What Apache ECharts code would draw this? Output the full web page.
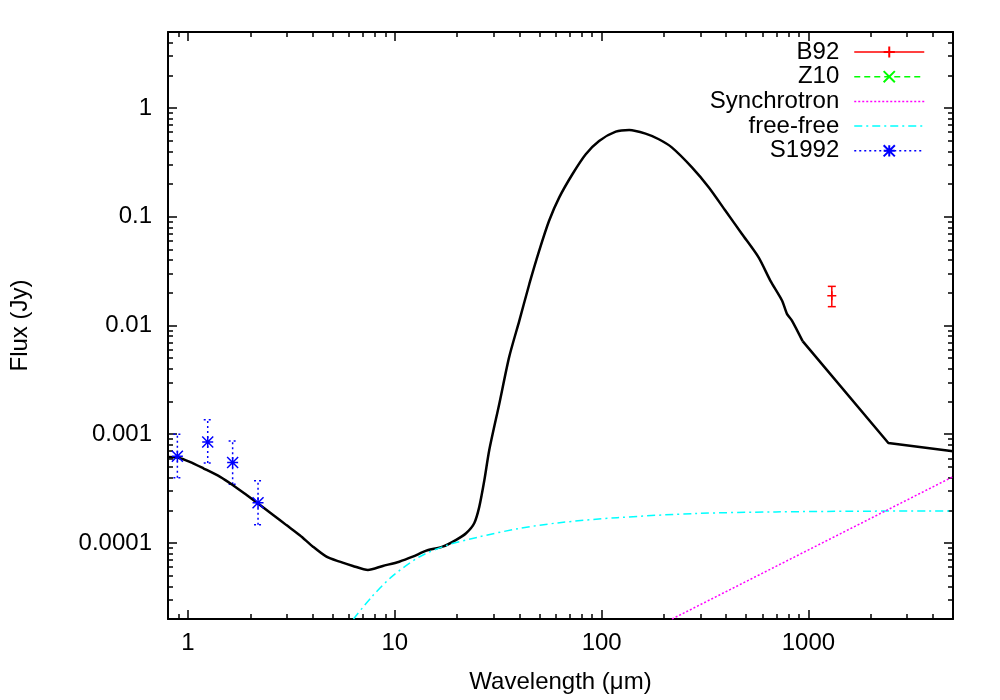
<!DOCTYPE html>
<html>
<head>
<meta charset="utf-8">
<script src="https://cdn.jsdelivr.net/npm/echarts@6/dist/echarts.min.js"></script>
<style>
html, body { margin: 0; padding: 0; background: #fff; }
#view { width: 1000px; height: 700px; }
</style>
</head>
<body>
<div id="view"></div>
<script>
var myChart = echarts.init(document.getElementById('view'));
var FONT = '"Liberation Sans", Arial, sans-serif';
var FS = 24;

/* model SED (black curve): dust part, then the straight long-wavelength tail */
var sedWave = [0.80, 0.888, 1.02, 1.19, 1.43, 1.65, 1.92, 2.18, 2.58, 2.99, 3.47, 4.02, 4.67, 5.41, 6.27, 7.41,
    8.75, 10.5, 12.2, 14.2, 17.0, 19.8, 22.1, 24.2, 25.6, 27.1, 28.6, 32.0, 35.7, 40.0, 44.7, 49.9, 55.7, 62.3,
    72.2, 83.8, 97.2, 117, 136, 163, 189, 219, 274, 330, 397, 477, 574, 654, 745, 787, 832, 937];
var sedFlux = [6.19e-4, 6.11e-4, 5.57e-4, 4.84e-4, 4.06e-4, 3.40e-4, 2.76e-4, 2.31e-4, 1.81e-4, 1.46e-4, 1.18e-4,
    9.25e-5, 7.48e-5, 6.73e-5, 6.15e-5, 5.65e-5, 6.15e-5, 6.73e-5, 7.48e-5, 8.50e-5, 9.25e-5, 1.07e-4, 1.23e-4,
    1.52e-4, 2.15e-4, 3.79e-4, 7.13e-4, 1.91e-3, 5.12e-3, 1.11e-2, 2.41e-2, 4.88e-2, 9.19e-2, 0.150, 0.246, 0.376,
    0.498, 0.606, 0.628, 0.581, 0.516, 0.432, 0.283, 0.186, 0.1135, 0.0694, 0.0423, 0.0259, 0.0170, 0.0128, 0.0111,
    0.00718];
var tailWave = [937, 2434, 5000];
var tailFlux = [0.00718, 8.32e-4, 6.98e-4];

/* free-free */
var freeWave = [6.31, 7.70, 9.61, 13.1, 17.8, 25.4, 39.5, 61.3, 119, 288, 695, 1682, 5000];
var freeFlux = [2.0e-5, 3.17e-5, 4.85e-5, 7.43e-5, 9.51e-5, 1.135e-4, 1.355e-4, 1.53e-4, 1.71e-4, 1.87e-4, 1.93e-4, 1.96e-4, 1.97e-4];

/* synchrotron */
var synWave = [219, 5000];
var synFlux = [2.0e-5, 4.07e-4];

/* S1992 */
var s1992Wave = [0.888, 1.245, 1.643, 2.18];
var s1992Flux = [6.28e-4, 8.50e-4, 5.50e-4, 2.34e-4];
var s1992Lo = [3.97e-4, 5.45e-4, 3.46e-4, 1.47e-4];
var s1992Hi = [1.0e-3, 1.36e-3, 8.68e-4, 3.73e-4];

/* B92 */
var b92Wave = [1297];
var b92Flux = [0.0188];
var b92Lo = [0.0149];
var b92Hi = [0.0229];

/* Z10 (nothing inside the plotted range) */
var z10Wave = [];
var z10Flux = [];

/* ticks */
var xTickValues = [1, 10, 100, 1000];
var xTickLabels = ['1', '10', '100', '1000'];
var xMinorTicks = [0.9, 2, 3, 4, 5, 6, 7, 8, 9, 20, 30, 40, 50, 60, 70, 80, 90,
    200, 300, 400, 500, 600, 700, 800, 900, 2000, 3000, 4000];
var yTickValues = [0.0001, 0.001, 0.01, 0.1, 1];
var yTickLabels = ['0.0001', '0.001', '0.01', '0.1', '1'];
var yMinorTicks = [3e-5, 4e-5, 5e-5, 6e-5, 7e-5, 8e-5, 9e-5,
    2e-4, 3e-4, 4e-4, 5e-4, 6e-4, 7e-4, 8e-4, 9e-4,
    0.002, 0.003, 0.004, 0.005, 0.006, 0.007, 0.008, 0.009,
    0.02, 0.03, 0.04, 0.05, 0.06, 0.07, 0.08, 0.09,
    0.2, 0.3, 0.4, 0.5, 0.6, 0.7, 0.8, 0.9, 2, 3, 4];

function zip(a, b) {
    return a.map(function (v, i) { return [v, b[i]]; });
}

function pickLabel(values, labels) {
    return function (v) {
        var best = 0;
        for (var i = 1; i < values.length; i++) {
            if (Math.abs(Math.log10(v) - Math.log10(values[i])) < Math.abs(Math.log10(v) - Math.log10(values[best]))) best = i;
        }
        return labels[best];
    };
}

function logAxis(pos, min, max, ticks, tickLen, withLine, label) {
    return {
        type: 'log', logBase: 10, position: pos, min: min, max: max,
        axisLine: { show: withLine, onZero: false, lineStyle: { color: '#000', width: 2 } },
        axisTick: { show: true, inside: true, length: tickLen, customValues: ticks, lineStyle: { color: '#000', width: 1.5 } },
        axisLabel: label || { show: false },
        splitLine: { show: false },
        minorTick: { show: false },
        minorSplitLine: { show: false }
    };
}

var xMin = 0.8, xMax = 5000, yMin = 2e-5, yMax = 5;

var xMain = logAxis('bottom', xMin, xMax, xTickValues, 9, true, {
    show: true, customValues: xTickValues, margin: 12, color: '#000', fontSize: FS, fontFamily: FONT,
    formatter: pickLabel(xTickValues, xTickLabels)
});
xMain.name = 'Wavelength (\u03bcm)';
xMain.nameLocation = 'middle';
xMain.nameGap = 51;
xMain.nameTextStyle = { color: '#000', fontSize: FS, fontFamily: FONT };

var yMain = logAxis('left', yMin, yMax, yTickValues, 9, true, {
    show: true, customValues: yTickValues, margin: 16, color: '#000', fontSize: FS, fontFamily: FONT,
    formatter: pickLabel(yTickValues, yTickLabels)
});
yMain.name = 'Flux (Jy)';
yMain.nameLocation = 'middle';
yMain.nameGap = 136;
yMain.nameRotate = 90;
yMain.nameTextStyle = { color: '#000', fontSize: FS, fontFamily: FONT };

function errorBars(name, xs, lo, hi, color, dash) {
    return {
        type: 'custom', name: name, xAxisIndex: 0, yAxisIndex: 0,
        data: xs.map(function (x, i) { return [x, lo[i], hi[i]]; }),
        encode: { x: 0, y: [1, 2] },
        silent: true,
        renderItem: function (params, api) {
            var x = api.value(0);
            var a = api.coord([x, api.value(1)]);
            var b = api.coord([x, api.value(2)]);
            var cap = 4;
            var st = { stroke: color, lineWidth: 1.5, lineDash: dash, fill: null };
            return {
                type: 'group',
                children: [
                    { type: 'line', shape: { x1: a[0], y1: a[1], x2: b[0], y2: b[1] }, style: st },
                    { type: 'line', shape: { x1: a[0] - cap, y1: a[1], x2: a[0] + cap, y2: a[1] }, style: st },
                    { type: 'line', shape: { x1: b[0] - cap, y1: b[1], x2: b[0] + cap, y2: b[1] }, style: st }
                ]
            };
        }
    };
}

var STAR = 'path://M0,-1L0,1M-1,0L1,0M-1,-1L1,1M-1,1L1,-1';
var PLUS = 'path://M0,-1L0,1M-1,0L1,0';
var CROSS = 'path://M-1,-1L1,1M-1,1L1,-1';

option = {
    animation: false,
    backgroundColor: '#fff',
    grid: { left: 167, right: 47, top: 32, bottom: 81 },
    xAxis: [
        xMain,
        logAxis('bottom', xMin, xMax, xMinorTicks, 5, false),
        logAxis('top', xMin, xMax, xTickValues, 9, true),
        logAxis('top', xMin, xMax, xMinorTicks, 5, false)
    ],
    yAxis: [
        yMain,
        logAxis('left', yMin, yMax, yMinorTicks, 5, false),
        logAxis('right', yMin, yMax, yTickValues, 9, true),
        logAxis('right', yMin, yMax, yMinorTicks, 5, false)
    ],
    legend: {
        orient: 'vertical', right: 75, top: 40, align: 'right', padding: 0,
        itemWidth: 70, itemHeight: 14, itemGap: 0.7,
        selectedMode: false,
        lineStyle: { width: 1.5 },
        textStyle: { fontSize: FS, fontFamily: FONT, color: '#000', lineHeight: 24, padding: [0, 10, 0, 0] },
        data: [
            { name: 'B92' },
            { name: 'Z10' },
            { name: 'Synchrotron', itemStyle: { opacity: 0 } },
            { name: 'free-free', itemStyle: { opacity: 0 } },
            { name: 'S1992', lineStyle: { width: 1.5, type: [2, 3], opacity: 1, color: '#0000ff' } }
        ]
    },
    series: [
        /* model */
        {
            name: 'model', type: 'line', data: zip(sedWave, sedFlux),
            symbol: 'none', smooth: 0.25, color: '#000',
            lineStyle: { color: '#000', width: 2.5 }
        },
        {
            name: 'model', type: 'line', data: zip(tailWave, tailFlux),
            symbol: 'none', color: '#000',
            lineStyle: { color: '#000', width: 2.5 }
        },
        /* free-free */
        {
            name: 'free-free', type: 'line', data: zip(freeWave, freeFlux),
            symbol: 'none', smooth: 0.3, color: '#00ffff',
            lineStyle: { color: '#00ffff', width: 1.5, type: [8, 4, 2, 4] }
        },
        /* synchrotron */
        {
            name: 'Synchrotron', type: 'line', data: zip(synWave, synFlux),
            symbol: 'none', color: '#ff00ff',
            lineStyle: { color: '#ff00ff', width: 1.5, type: [2, 2] }
        },
        /* Z10 */
        {
            name: 'Z10', type: 'line', data: zip(z10Wave, z10Flux),
            symbol: CROSS, symbolSize: 10, color: '#00ff00',
            itemStyle: { color: '#00ff00', borderColor: '#00ff00', borderWidth: 1.5 },
            lineStyle: { color: '#00ff00', width: 1.5, type: [6, 4] }
        },
        /* B92 */
        errorBars('B92 err', b92Wave, b92Lo, b92Hi, '#ff0000', null),
        {
            name: 'B92', type: 'line', data: zip(b92Wave, b92Flux),
            symbol: PLUS, symbolSize: 9, showSymbol: true, color: '#ff0000',
            itemStyle: { color: '#ff0000', borderColor: '#ff0000', borderWidth: 1.5 },
            lineStyle: { color: '#ff0000', width: 1.5 }
        },
        /* S1992 */
        errorBars('S1992 err', s1992Wave, s1992Lo, s1992Hi, '#0000ff', [2, 3]),
        {
            name: 'S1992', type: 'line', data: zip(s1992Wave, s1992Flux),
            symbol: STAR, symbolSize: 11, showSymbol: true, showAllSymbol: true, color: '#0000ff',
            itemStyle: { color: '#0000ff', borderColor: '#0000ff', borderWidth: 1.5 },
            lineStyle: { color: '#0000ff', width: 0 }
        }
    ]
};

myChart.setOption(option);
</script>
</body>
</html>
